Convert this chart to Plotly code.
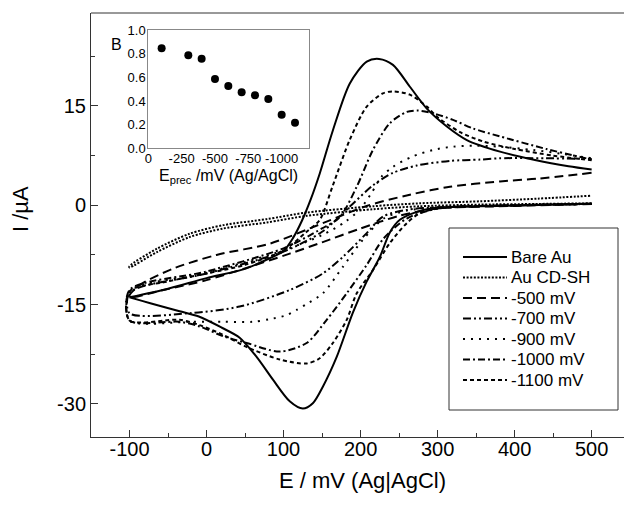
import plotly.graph_objects as go

# ---------------- data ----------------
# Bare Au (solid)
bare_fwd_E = [-100, -50, 0, 50, 82, 100, 112, 124, 135, 147, 164, 186, 208, 224, 242, 264, 286, 312, 338, 381, 428, 470, 500]
bare_fwd_I = [-13.9, -12.6, -11.0, -9.6, -8.0, -6.9, -5.0, -2.3, 0.8, 4.8, 11.3, 18.4, 21.7, 22.1, 21.2, 17.9, 14.6, 11.9, 9.85, 8.1, 6.8, 5.9, 5.4]
bare_rev_E = [500, 420, 338, 294, 273, 251, 238, 225, 208, 190, 169, 151, 138, 125, 108, 86, 65, 43, 20, -10, -35, -73, -100]
bare_rev_I = [0.25, 0.0, -0.2, -0.45, -1.0, -2.2, -4.1, -7.8, -11.5, -16.2, -22.9, -27.4, -29.9, -30.7, -29.6, -26.3, -22.9, -20.0, -18.5, -16.8, -16.0, -14.8, -13.9]

# Au CD-SH (dotted)
cdsh_fwd_E = [-100, -65, -22, 22, 78, 130, 216, 277, 355, 430, 500]
cdsh_fwd_I = [-9.2, -6.6, -4.3, -3.0, -2.1, -1.1, -0.15, 0.3, 0.6, 1.0, 1.45]
cdsh_rev_E = [500, 430, 355, 277, 216, 130, 78, 22, -22, -65, -100]
cdsh_rev_I = [0.3, 0.2, 0.1, -0.15, -0.6, -1.6, -2.6, -3.5, -4.8, -7.1, -9.4]

# -500 mV (long dash)
m500_fwd_E = [-100, -86, -44, 13, 82, 151, 208, 264, 316, 381, 428, 500]
m500_fwd_I = [-13.6, -12.0, -9.6, -7.5, -5.8, -2.7, -0.1, 1.6, 2.8, 3.6, 4.0, 4.9]
m500_rev_E = [500, 400, 300, 250, 200, 150, 108, 56, 0, -56, -100]
m500_rev_I = [0.2, -0.1, -0.5, -1.6, -3.5, -5.6, -7.3, -9.3, -11.3, -12.8, -13.9]

# -700 mV (dash-dot-dot)
m700_fwd_E = [-100, 0, 100, 150, 186, 216, 242, 273, 316, 355, 381, 440, 500]
m700_fwd_I = [-13.2, -10.3, -7.0, -4.0, -0.2, 3.0, 4.9, 6.0, 6.7, 6.9, 7.1, 7.1, 7.0]
m700_rev_E = [500, 400, 300, 260, 229, 208, 177, 151, 108, 43, -22, -100]
m700_rev_I = [0.2, 0.0, -0.3, -0.7, -1.7, -4.2, -7.8, -10.3, -12.8, -15.3, -16.3, -16.3]

# -900 mV (sparse dots)
m900_fwd_E = [-100, 0, 100, 150, 180, 200, 215, 227, 242, 266, 294, 320, 350, 380, 424, 460, 500]
m900_fwd_I = [-13.0, -10.2, -6.8, -4.5, -2.5, -0.5, 2.0, 4.3, 5.8, 7.3, 8.35, 8.85, 9.0, 8.85, 8.35, 7.8, 7.1]
m900_rev_E = [500, 400, 300, 260, 230, 203, 177, 151, 130, 117, 104, 82, 60, 22, -22, -100]
m900_rev_I = [0.2, 0.0, -0.3, -0.8, -2.0, -5.2, -9.3, -13.3, -14.9, -15.8, -16.6, -17.2, -17.6, -17.6, -17.6, -17.4]

# -1000 mV (dash-dot)
m1000_fwd_E = [-100, 0, 100, 150, 173, 195, 216, 238, 260, 275, 294, 320, 346, 381, 441, 500]
m1000_fwd_I = [-12.8, -10.0, -6.5, -3.5, -1.8, 2.8, 8.35, 12.4, 14.1, 14.3, 13.9, 12.9, 11.6, 10.4, 8.5, 6.9]
m1000_rev_E = [500, 400, 300, 260, 230, 208, 182, 156, 130, 95, 52, 22, -9, -35, -100]
m1000_rev_I = [0.2, 0.0, -0.5, -2.0, -5.0, -9.0, -13.3, -17.3, -20.8, -22.1, -20.8, -19.8, -18.3, -17.6, -17.4]

# -1100 mV (short dash)
m1100_fwd_E = [-100, -50, 0, 50, 100, 130, 147, 164, 186, 208, 229, 242, 264, 286, 300, 330, 360, 400, 450, 500]
m1100_fwd_I = [-13.0, -11.5, -10.3, -9.0, -6.8, -4.0, -2.2, 3.0, 9.9, 14.9, 16.9, 17.2, 16.7, 14.9, 13.3, 11.0, 9.6, 8.5, 7.5, 6.8]
m1100_rev_E = [500, 400, 300, 277, 260, 238, 216, 195, 182, 164, 147, 130, 95, 52, 22, -9, -35, -100]
m1100_rev_I = [0.2, 0.0, -0.5, -1.2, -2.7, -5.7, -9.8, -13.3, -17.3, -20.8, -23.1, -23.9, -23.3, -21.4, -19.6, -18.1, -17.3, -17.4]

series_names = ["Bare Au", "Au CD-SH", "-500 mV", "-700 mV", "-900 mV", "-1000 mV", "-1100 mV"]

# Inset B
prec_E = [-100, -300, -400, -500, -600, -700, -800, -900, -1000, -1100]
coverage = [0.845, 0.786, 0.758, 0.586, 0.527, 0.474, 0.448, 0.417, 0.284, 0.216]
inset_xticks = [0, -250, -500, -750, -1000]
inset_xlabels = ["0", "-250", "-500", "-750", "-1000"]
inset_yticks = [0, 0.2, 0.4, 0.6, 0.8, 1.0]
inset_ylabels = ["0.0", "0.2", "0.4", "0.6", "0.8", "1.0"]
main_xticks = [-100, 0, 100, 200, 300, 400, 500]
main_xlabels = ["-100", "0", "100", "200", "300", "400", "500"]
main_yticks = [-30, -15, 0, 15]
main_ylabels = ["-30", "-15", "0", "15"]

# ---------------- figure ----------------
FONT = "Liberation Sans, Arial, sans-serif"
styles = ["solid", "2px,1.6px", "9px,5px", "8px,3px,2px,3px,2px,3px", "2px,6px", "7px,3px,2px,3px", "4px,3px"]
curves = [
    (bare_fwd_E, bare_fwd_I, bare_rev_E, bare_rev_I),
    (cdsh_fwd_E, cdsh_fwd_I, cdsh_rev_E, cdsh_rev_I),
    (m500_fwd_E, m500_fwd_I, m500_rev_E, m500_rev_I),
    (m700_fwd_E, m700_fwd_I, m700_rev_E, m700_rev_I),
    (m900_fwd_E, m900_fwd_I, m900_rev_E, m900_rev_I),
    (m1000_fwd_E, m1000_fwd_I, m1000_rev_E, m1000_rev_I),
    (m1100_fwd_E, m1100_fwd_I, m1100_rev_E, m1100_rev_I),
]

fig = go.Figure()
for name, dash, (fE, fI, rE, rI) in zip(series_names, styles, curves):
    fig.add_trace(go.Scatter(
        x=list(rE) + list(fE), y=list(rI) + list(fI),
        mode="lines", name=name, showlegend=False,
        line=dict(color="black", width=2, dash=dash, shape="spline", smoothing=0.8),
        xaxis="x", yaxis="y",
    ))

fig.add_trace(go.Scatter(
    x=prec_E, y=coverage, mode="markers", showlegend=False,
    marker=dict(color="black", size=8),
    xaxis="x2", yaxis="y2",
))

L, T, W, H = 91, 13, 533, 424
def px(x):
    return (x - L) / W
def py(y):
    return (T + H - y) / H

axis_col = "#333333"
shapes = [
    dict(type="line", xref="paper", yref="paper", x0=0, x1=1, y0=1, y1=1,
         line=dict(color=axis_col, width=1)),
    dict(type="rect", xref="paper", yref="paper",
         x0=px(449), x1=px(618), y0=py(410), y1=py(228),
         line=dict(color=axis_col, width=1), fillcolor="white", layer="above"),
]
annotations = [
    dict(text="E / mV (Ag|AgCl)", xref="paper", yref="paper",
         x=px(362), y=py(480), xanchor="center", yanchor="middle",
         showarrow=False, font=dict(size=22, family=FONT, color="black")),
    dict(text="I /µA", xref="paper", yref="paper", textangle=-90,
         x=px(20), y=py(209), xanchor="center", yanchor="middle",
         showarrow=False, font=dict(size=22, family=FONT, color="black")),
    dict(text="E<sub>prec</sub> /mV (Ag/AgCl)", xref="paper", yref="paper",
         x=px(228), y=py(176), xanchor="center", yanchor="middle",
         showarrow=False, font=dict(size=16, family=FONT, color="black")),
    dict(text="B", xref="paper", yref="paper",
         x=px(116), y=py(45), xanchor="center", yanchor="middle",
         showarrow=False, font=dict(size=16, family=FONT, color="black")),
]
# legend drawn by hand (box, line samples, labels)
for i, (name, dash) in enumerate(zip(series_names, styles)):
    yc = 257 + 20.5 * i
    shapes.append(dict(type="line", xref="paper", yref="paper",
                       x0=px(463), x1=px(507), y0=py(yc), y1=py(yc),
                       line=dict(color="black", width=2, dash=dash), layer="above"))
    annotations.append(dict(text=name, xref="paper", yref="paper",
                            x=px(509), y=py(yc), xanchor="left", yanchor="middle",
                            showarrow=False, font=dict(size=17, family=FONT, color="black")))

fig.update_layout(
    width=624, height=510,
    margin=dict(l=L, r=0, t=T, b=510 - T - H),
    paper_bgcolor="white", plot_bgcolor="white",
    font=dict(family=FONT, color="black"),
    showlegend=False,
    xaxis=dict(
        domain=[0, 1], range=[-150, 542], automargin=False,
        tickvals=main_xticks, ticktext=main_xlabels,
        ticks="inside", ticklen=7, tickcolor=axis_col, ticklabelstandoff=-6,
        minor=dict(dtick=50, tick0=0, ticks="inside", ticklen=4, tickcolor=axis_col),
        showline=True, linecolor=axis_col, linewidth=1,
        showgrid=False, zeroline=False,
        tickfont=dict(size=20, family=FONT, color="black"),
    ),
    yaxis=dict(
        domain=[0, 1], range=[-35, 29.04], automargin=False,
        tickvals=main_yticks, ticktext=main_ylabels,
        ticks="inside", ticklen=7, tickcolor=axis_col,
        minor=dict(dtick=7.5, tick0=0, ticks="inside", ticklen=4, tickcolor=axis_col),
        showline=True, linecolor=axis_col, linewidth=1,
        showgrid=False, zeroline=False,
        tickfont=dict(size=20, family=FONT, color="black"),
    ),
    xaxis2=dict(
        domain=[px(148.3), px(309)], anchor="y2", range=[0, -1205], automargin=False,
        tickvals=inset_xticks, ticktext=inset_xlabels, ticks="", ticklabelstandoff=-2,
        showline=True, mirror=True, linecolor="#888888", linewidth=1,
        showgrid=False, zeroline=False,
        tickfont=dict(size=13, family=FONT, color="black"),
    ),
    yaxis2=dict(
        domain=[py(148.3), py(30)], anchor="x2", range=[0, 1], automargin=False,
        tickvals=inset_yticks, ticktext=inset_ylabels, ticks="", ticklabelstandoff=-1,
        showline=True, mirror=True, linecolor="#888888", linewidth=1,
        showgrid=False, zeroline=False,
        tickfont=dict(size=13, family=FONT, color="black"),
    ),
    shapes=shapes,
    annotations=annotations,
)

fig.write_html("out.html", config={"responsive": False, "displayModeBar": False},
               post_script="document.body.style.margin='0';document.body.style.padding='0';")
